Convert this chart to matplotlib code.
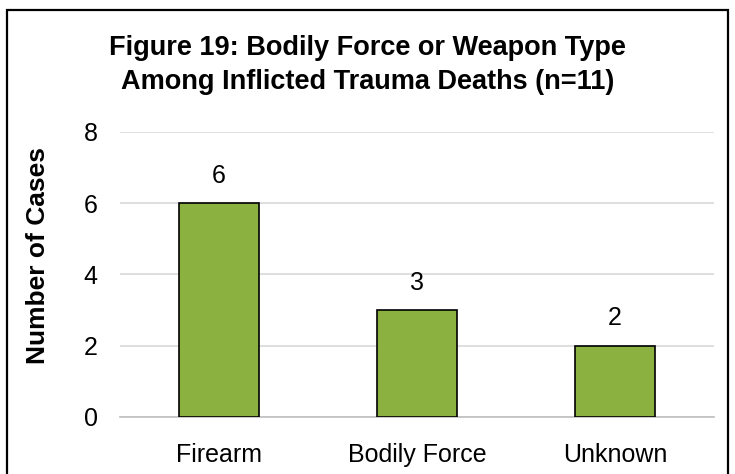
import matplotlib.pyplot as plt
from matplotlib.patches import Rectangle

# data
categories = ['Firearm', 'Bodily Force', 'Unknown']
cases = [6, 3, 2]
yticks = [0, 2, 4, 6, 8]

plt.rcParams['font.family'] = ['Liberation Sans', 'DejaVu Sans']

fig = plt.figure(figsize=(7.35, 4.74), dpi=100)
ax = fig.add_axes([0.1633, 0.1203, 0.8081, 0.6019])

bars = ax.bar(range(len(categories)), cases, width=0.40, color='#8BB240',
              edgecolor='black', linewidth=1.2, zorder=3)
ax.bar_label(bars, labels=[str(v) for v in cases], padding=11, fontsize=18)

ax.set_xlim(-0.5, len(categories) - 0.5)
ax.set_ylim(0, 8)
ax.set_yticks(yticks)
ax.set_xticks(range(len(categories)))
ax.set_xticklabels(categories)
ax.tick_params(axis='both', length=0, labelsize=18)
ax.tick_params(axis='y', pad=16)
ax.tick_params(axis='x', pad=19)
ax.grid(axis='y', color='#D9D9D9', linewidth=1.2, zorder=0)
for s in ['top', 'right', 'left']:
    ax.spines[s].set_visible(False)
ax.spines['bottom'].set_color('#BFBFBF')
ax.spines['bottom'].set_linewidth(1.2)

fig.text(0.5, 0.862, 'Figure 19: Bodily Force or Weapon Type\nAmong Inflicted Trauma Deaths (n=11)',
         ha='center', va='center', fontsize=19.5, fontweight='bold', linespacing=1.4)
fig.text(0.052, 0.462, 'Number of Cases', rotation=90, ha='center', va='center',
         fontsize=19, fontweight='bold')

fig.patches.append(Rectangle((7 / 735, -0.05), 721 / 735, 0.05 + 464 / 474,
                             transform=fig.transFigure, fill=False,
                             edgecolor='black', linewidth=1.6))

fig.savefig('out.png', dpi=100)
